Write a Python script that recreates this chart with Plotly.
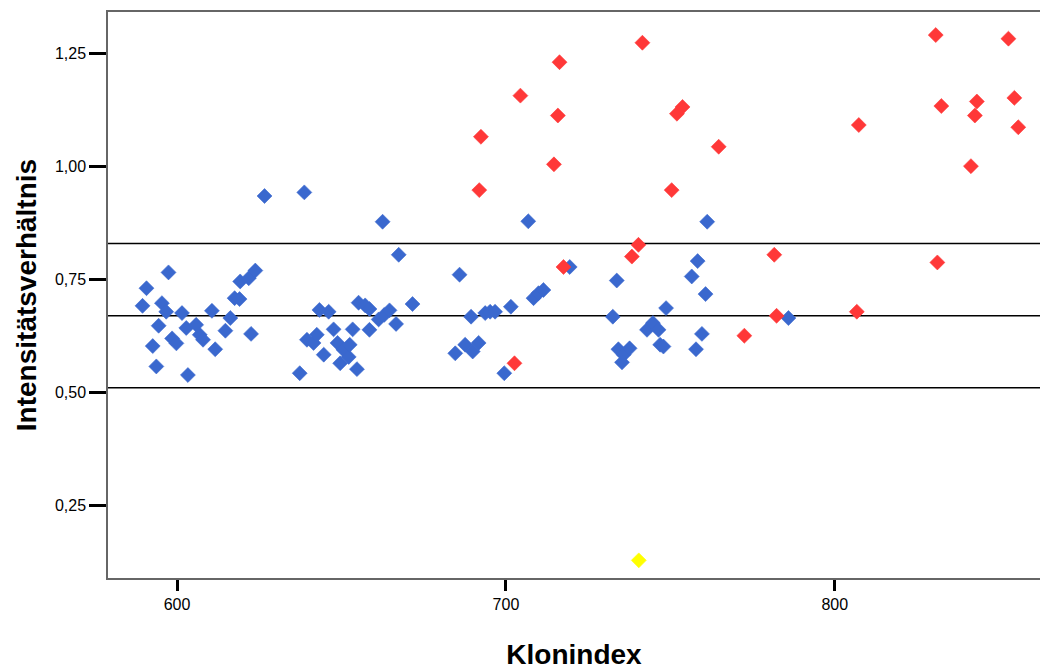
import plotly.graph_objects as go

# ---- data ----
blue_x = [590.7, 589.5, 597.4, 595.4, 596.7, 594.4, 592.6, 593.7, 598.5, 599.8,
          601.5, 602.8, 603.3, 605.8, 606.9, 607.9, 610.6, 611.6, 614.7, 616.2,
          617.5, 619.0, 619.2, 621.8, 623.8, 622.5, 626.6, 637.3, 639.5, 641.5,
          642.5, 643.3, 646.1, 644.6, 647.6, 648.8, 650.6, 649.6, 652.2, 652.5,
          653.4, 654.7, 655.2, 657.2, 658.5, 658.5, 661.3, 663.0, 664.6, 666.6,
          638.7, 662.5, 667.4, 671.6, 684.6, 685.9, 687.6, 689.9, 691.7, 689.4,
          693.7, 695.2, 696.7, 699.5, 701.5, 706.8, 708.4, 709.9, 711.4, 719.4,
          732.5, 733.7, 734.2, 735.8, 735.3, 737.6, 742.9, 744.7, 746.4, 746.9,
          747.9, 748.7, 756.5, 758.3, 757.8, 759.6, 760.7, 761.2, 785.9]
blue_y = [0.730, 0.691, 0.765, 0.697, 0.678, 0.647, 0.602, 0.557, 0.619, 0.608,
          0.675, 0.642, 0.538, 0.649, 0.627, 0.616, 0.680, 0.595, 0.636, 0.664,
          0.708, 0.706, 0.745, 0.752, 0.769, 0.629, 0.934, 0.542, 0.616, 0.609,
          0.627, 0.682, 0.678, 0.583, 0.639, 0.609, 0.594, 0.564, 0.578, 0.605,
          0.639, 0.551, 0.698, 0.692, 0.684, 0.638, 0.661, 0.671, 0.681, 0.651,
          0.942, 0.877, 0.804, 0.695, 0.586, 0.760, 0.605, 0.590, 0.609, 0.667,
          0.675, 0.678, 0.678, 0.542, 0.689, 0.878, 0.708, 0.719, 0.726, 0.777,
          0.667, 0.747, 0.595, 0.583, 0.566, 0.597, 0.638, 0.653, 0.638, 0.605,
          0.601, 0.686, 0.756, 0.790, 0.595, 0.629, 0.717, 0.877, 0.664]

red_x = [691.9, 692.4, 702.6, 704.4, 714.6, 715.8, 716.3, 717.5, 738.3, 740.3,
         741.5, 750.4, 752.0, 753.7, 764.7, 772.5, 781.6, 782.3, 806.7, 807.3,
         830.7, 831.2, 832.4, 841.4, 842.6, 843.2, 852.8, 854.6, 855.8]
red_y = [0.947, 1.065, 0.564, 1.156, 1.004, 1.112, 1.230, 0.777, 0.800, 0.826,
         1.273, 0.947, 1.116, 1.131, 1.043, 0.625, 0.804, 0.669, 0.678, 1.091,
         1.290, 0.787, 1.133, 1.000, 1.112, 1.143, 1.282, 1.151, 1.086]

yellow_x = [740.4]
yellow_y = [0.128]

ref_lines = [0.829, 0.669, 0.510]

x_ticks = [600, 700, 800]
y_ticks = [0.25, 0.50, 0.75, 1.00, 1.25]

x_title = "Klonindex"
y_title = "Intensitätsverhältnis"

FONT = "Liberation Sans, Arial, sans-serif"

fig = go.Figure()

def add(xs, ys, color):
    fig.add_trace(go.Scatter(
        x=xs, y=ys, mode="markers", showlegend=False, hoverinfo="x+y",
        marker=dict(symbol="diamond", size=11.5, color=color,
                    line=dict(width=0.6, color=color)),
    ))

add(blue_x, blue_y, "rgb(58,104,206)")
add(red_x, red_y, "rgb(255,56,56)")
add(yellow_x, yellow_y, "rgb(255,255,0)")

for v in ref_lines:
    fig.add_shape(type="line", xref="paper", x0=0, x1=1, yref="y", y0=v, y1=v,
                  line=dict(color="black", width=1.6), layer="below")

fig.update_layout(
    width=1040, height=670,
    margin=dict(l=108, r=0, t=12, b=92),
    paper_bgcolor="white", plot_bgcolor="white",
    separators=",.",
    font=dict(family=FONT, color="black"),
    xaxis=dict(
        range=[579, 862.4], tickvals=x_ticks, tickformat="d",
        showgrid=False, zeroline=False,
        showline=True, linecolor="#666", linewidth=1.5, mirror=True,
        ticks="outside", ticklen=11, tickwidth=3, tickcolor="black",
        tickfont=dict(size=16, family=FONT, color="black"),
        title=dict(text=x_title, standoff=34,
                   font=dict(size=28, family=FONT, color="black", weight="bold")),
    ),
    yaxis=dict(
        range=[0.089, 1.341], tickvals=y_ticks, tickformat=".2f",
        showgrid=False, zeroline=False,
        showline=True, linecolor="#666", linewidth=1.5,
        ticks="outside", ticklen=17, tickwidth=3, tickcolor="black",
        tickfont=dict(size=16, family=FONT, color="black"),
        title=dict(text=y_title, standoff=10,
                   font=dict(size=28, family=FONT, color="black", weight="bold")),
    ),
)

fig.write_html("out.html")
